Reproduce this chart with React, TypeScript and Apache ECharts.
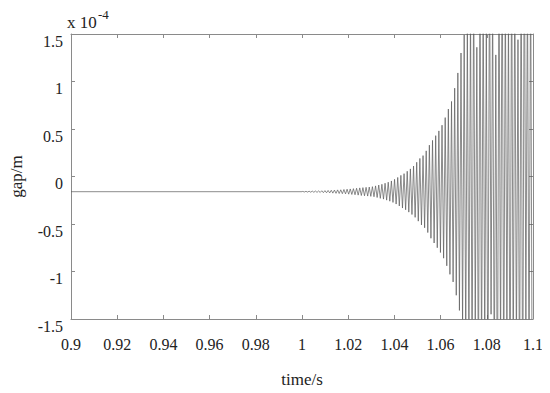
import React, { useEffect, useRef } from "react";
import * as echarts from "echarts";

// time axis ticks (s)
const xTicks = [0.9, 0.92, 0.94, 0.96, 0.98, 1, 1.02, 1.04, 1.06, 1.08, 1.1];
// gap axis ticks (x 1e-4 m)
const yTicks = [-1.5, -1, -0.5, 0, 0.5, 1, 1.5];

// quiet segment before the oscillation starts (time, gap x1e-4)
const quietTimes = [0.9, 1.0];
const quietValues = [-0.16, -0.16];

// oscillation window (s)
const oscStart = 1.0;
const oscEnd = 1.1;

// per-cycle upper peaks (x 1e-4 m)
const upperPeaks = [
  -0.157, -0.156, -0.155, -0.154, -0.153, -0.152, -0.15, -0.149, -0.147, -0.145,
  -0.143, -0.141, -0.14, -0.137, -0.134, -0.131, -0.128, -0.124, -0.12, -0.117,
  -0.114, -0.111, -0.107, -0.099, -0.09, -0.082, -0.071, -0.06, -0.047, -0.03,
  -0.01, 0.012, 0.03, 0.055, 0.08, 0.11, 0.15, 0.19, 0.22, 0.27,
  0.33, 0.38, 0.43, 0.48, 0.54, 0.62, 0.71, 0.79, 0.93, 1.09,
  1.3, 1.49, 1.64, 1.84, 2.14, 1.36, 2.24, 2.04, 1.54, 2.44,
  1.94, 1.28, 2.34, 2.64, 2.04, 1.74, 2.54, 2.24, 1.44, 2.44,
  2.84, 2.14, 2.34,
];

// per-cycle lower peaks (x 1e-4 m)
const lowerPeaks = [
  -0.163, -0.164, -0.165, -0.166, -0.167, -0.168, -0.17, -0.171, -0.173, -0.175,
  -0.177, -0.179, -0.181, -0.183, -0.186, -0.189, -0.192, -0.196, -0.2, -0.203,
  -0.206, -0.209, -0.213, -0.221, -0.23, -0.238, -0.249, -0.26, -0.273, -0.29,
  -0.31, -0.332, -0.35, -0.375, -0.4, -0.43, -0.47, -0.51, -0.54, -0.59,
  -0.65, -0.7, -0.75, -0.8, -0.86, -0.94, -1.03, -1.11, -1.25, -1.41,
  -1.62, -1.81, -1.96, -2.16, -1.6, -2.36, -2.06, -1.86, -2.56, -1.45,
  -2.26, -2.76, -1.96, -2.36, -1.66, -2.66, -2.16, -1.9, -2.46, -2.86,
  -1.56, -2.26, -2.5,
];

function buildData(): [number, number][] {
  const pts: [number, number][] = [];
  for (let i = 0; i < quietTimes.length; i++) pts.push([quietTimes[i], quietValues[i]]);
  const n = upperPeaks.length;
  const T = (oscEnd - oscStart) / n;
  for (let i = 0; i < n; i++) {
    pts.push([oscStart + i * T + T * 0.25, upperPeaks[i]]);
    pts.push([oscStart + i * T + T * 0.75, lowerPeaks[i]]);
  }
  return pts;
}

const FONT = "Liberation Serif";
const AXIS_COLOR = "#8a8a8a";

export default function App() {
  const ref = useRef<HTMLDivElement>(null);
  useEffect(() => {
    if (!ref.current) return;
    const chart = echarts.init(ref.current, undefined, { renderer: "svg" });
    const axisCommon = {
      min: xTicks[0],
      max: xTicks[xTicks.length - 1],
      interval: 0.02,
      axisLine: { show: true, onZero: false, lineStyle: { color: AXIS_COLOR, width: 1 } },
      axisTick: { show: true, inside: true, length: 4, lineStyle: { color: AXIS_COLOR } },
      splitLine: { show: false },
    };
    const yCommon = {
      min: yTicks[0],
      max: yTicks[yTicks.length - 1],
      interval: 0.5,
      axisLine: { show: true, onZero: false, lineStyle: { color: AXIS_COLOR, width: 1 } },
      axisTick: { show: true, inside: true, length: 4, lineStyle: { color: AXIS_COLOR } },
      splitLine: { show: false },
    };
    chart.setOption({
      animation: false,
      backgroundColor: "#ffffff",
      grid: { left: 67, right: 17, top: 34, bottom: 70 },
      xAxis: [
        {
          type: "value",
          position: "bottom",
          ...axisCommon,
          name: "time/s",
          nameLocation: "middle",
          nameGap: 52,
          nameTextStyle: { fontFamily: FONT, fontSize: 17, color: "#222" },
          axisLabel: {
            show: true,
            margin: 17,
            fontFamily: FONT,
            fontSize: 16,
            color: "#222",
            formatter: (v: number) => String(parseFloat(v.toFixed(2))),
          },
        },
        {
          type: "value",
          position: "top",
          ...axisCommon,
          axisLabel: { show: false },
        },
      ],
      yAxis: [
        {
          type: "value",
          position: "left",
          ...yCommon,
          name: "gap/m",
          nameLocation: "middle",
          nameGap: 46,
          nameRotate: 90,
          nameTextStyle: { fontFamily: FONT, fontSize: 17, color: "#222" },
          axisLabel: {
            show: true,
            margin: 8,
            fontFamily: FONT,
            fontSize: 16,
            color: "#222",
            verticalAlign: "top",
            lineHeight: 14,
            formatter: (v: number) => String(parseFloat(v.toFixed(2))),
          },
        },
        {
          type: "value",
          position: "right",
          ...yCommon,
          axisLabel: { show: false },
        },
      ],
      graphic: [
        {
          type: "text",
          left: 67,
          top: 14,
          style: { text: "x 10", fontFamily: FONT, fontSize: 17, fill: "#222" },
        },
        {
          type: "text",
          left: 98,
          top: 8,
          style: { text: "-4", fontFamily: FONT, fontSize: 13, fill: "#222" },
        },
      ],
      series: [
        {
          type: "line",
          xAxisIndex: 0,
          yAxisIndex: 0,
          data: buildData(),
          showSymbol: false,
          symbol: "none",
          clip: true,
          lineStyle: { color: "#5a5a5a", width: 0.7 },
        },
      ],
    });
    return () => chart.dispose();
  }, []);
  return <div ref={ref} style={{ width: 550, height: 393, margin: -8 }} />;
}
